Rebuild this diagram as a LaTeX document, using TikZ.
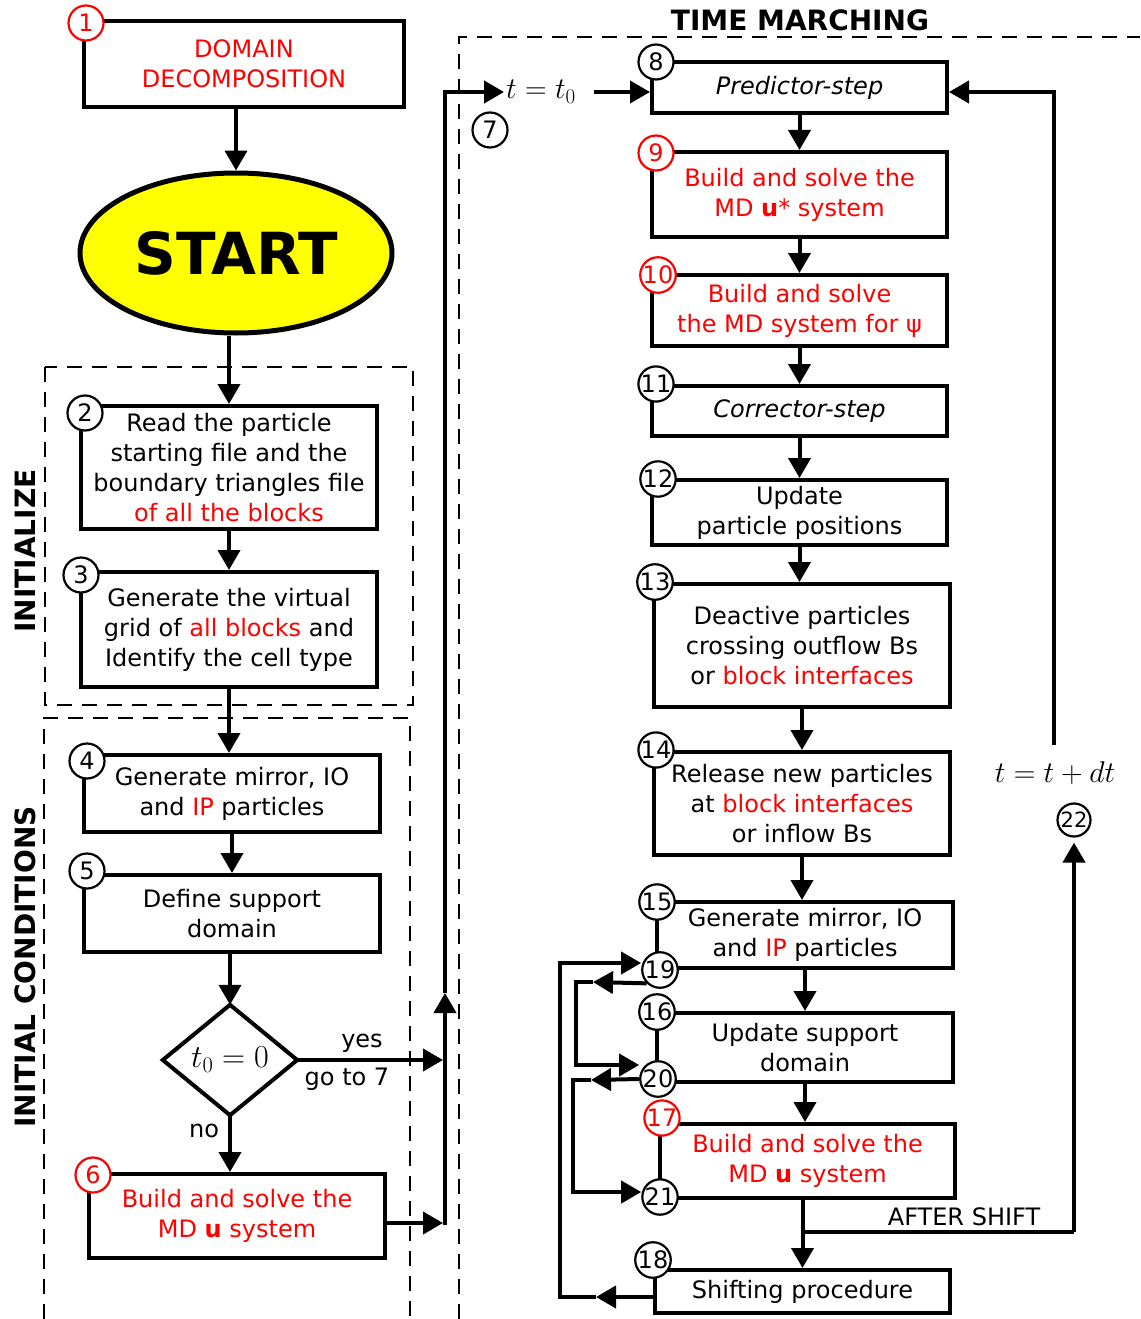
\documentclass[tikz,border=0pt]{standalone}
\usepackage{fix-cm}
\usepackage[no-math]{fontspec}
\setmainfont{DejaVu Sans}[ItalicFont={DejaVu Sans Oblique},BoldFont={DejaVu Sans Bold}]
\usetikzlibrary{arrows.meta,shapes.geometric}
\definecolor{startyellow}{RGB}{255,255,0}
\definecolor{mark}{RGB}{255,0,0}
\newcommand\bodyfont{\fontsize{24}{30}\selectfont}
\newcommand\headfont{\fontsize{28}{28}\selectfont\bfseries}
\begin{document}
\begin{tikzpicture}[x=1pt,y=-1pt,
  box/.style={draw, line width=4pt, fill=white, inner sep=0pt, align=center, font=\bodyfont},
  numc/.style={circle, draw, line width=2.2pt, fill=white, minimum size=35pt, inner sep=0pt, font=\fontsize{24}{24}\selectfont},
  rnumc/.style={numc, draw=mark, text=mark},
  arr/.style={line width=4pt, line join=miter, -{Triangle[length=20pt,width=22pt]}},
  conn/.style={line width=4pt, line join=miter},
  dashbox/.style={line width=2pt, dash pattern=on 15pt off 10pt},
  lbl/.style={font=\bodyfont, inner sep=2pt},
  mathlbl/.style={font=\fontsize{30}{30}\selectfont, inner sep=2pt},
]
% canvas
\fill[white] (0,0) rectangle (1140,1319);
\useasboundingbox (0,0) rectangle (1140,1319);

% dashed group frames
\draw[dashbox] (45,367) rectangle (413,705);
\draw[dashbox] (44,1319) -- (44,718) -- (410,718) -- (410,1319);
\draw[dashbox] (459,1319) -- (459,37) -- (1140,37);

% group titles
\node[font=\headfont] (tm) at (800,20) {TIME MARCHING};
\node[font=\headfont, rotate=90] (ini) at (25,551) {INITIALIZE};
\node[font=\headfont, rotate=90] (icn) at (25,967) {INITIAL CONDITIONS};

% ---------- left column ----------
\node[box, minimum width=320pt, minimum height=86pt, text=mark] (b1) at (244,64) {DOMAIN\\DECOMPOSITION};
\node[ellipse, draw, line width=5pt, fill=startyellow, minimum width=312pt, minimum height=160pt, inner sep=0pt,
      font=\fontsize{58}{58}\selectfont\bfseries] (start) at (236,253) {START};
\node[box, minimum width=296pt, minimum height=123pt] (b2) at (229,467.5)
  {Read the particle\\starting file and the\\boundary triangles file\\\textcolor{mark}{of all the blocks}};
\node[box, minimum width=296pt, minimum height=115pt] (b3) at (229,629.5)
  {Generate the virtual\\grid of \textcolor{mark}{all blocks} and\\Identify the cell type};
\node[box, minimum width=296pt, minimum height=77pt] (b4) at (232,793.5)
  {Generate mirror, IO\\and \textcolor{mark}{IP} particles};
\node[box, minimum width=296pt, minimum height=77pt] (b5) at (232,913.5)
  {Define support\\domain};
\node[minimum width=134pt, minimum height=110pt, inner sep=0pt, font=\fontsize{32}{32}\selectfont] (dia) at (230,1060) {$t_0=0$};
\draw[line width=4pt, line join=miter] (dia.north) -- (dia.east) -- (dia.south) -- (dia.west) -- cycle;
\node[box, minimum width=296pt, minimum height=84pt, text=mark] (b6) at (237,1216)
  {Build and solve the\\MD \textbf{u} system};

% ---------- right column ----------
\node[box, minimum width=295pt, minimum height=51pt] (b8) at (799.5,87.5) {\itshape Predictor-step};
\node[box, minimum width=295pt, minimum height=85pt, text=mark] (b9) at (799.5,194.5)
  {Build and solve the\\MD \textbf{u}* system};
\node[box, minimum width=295pt, minimum height=71pt, text=mark] (b10) at (799.5,310.5)
  {Build and solve\\the MD system for ψ};
\node[box, minimum width=295pt, minimum height=50pt] (b11) at (799.5,411) {\itshape Corrector-step};
\node[box, minimum width=295pt, minimum height=65pt] (b12) at (799.5,512.5)
  {Update\\particle positions};
\node[box, minimum width=296pt, minimum height=123pt] (b13) at (802,645.5)
  {Deactive particles\\crossing outflow Bs\\or \textcolor{mark}{block interfaces}};
\node[box, minimum width=296pt, minimum height=103pt] (b14) at (802,803.5)
  {Release new particles\\at \textcolor{mark}{block interfaces}\\or inflow Bs};
\node[box, minimum width=296pt, minimum height=66pt] (b15) at (805,935)
  {Generate mirror, IO\\and \textcolor{mark}{IP} particles};
\node[box, minimum width=296pt, minimum height=69pt] (b16) at (805,1047.5)
  {Update support\\domain};
\node[box, minimum width=295pt, minimum height=74pt, text=mark] (b17) at (807.5,1161)
  {Build and solve the\\MD \textbf{u} system};
\node[box, minimum width=295pt, minimum height=43pt] (b18) at (802.5,1291.5)
  {Shifting procedure};

% labels
\node[mathlbl] (t0) at (541,92) {$t=t_0$};
\node[mathlbl] (tdt) at (1055,773) {$t=t+dt$};
\node[lbl] (yes) at (362,1043) {yes};
\node[lbl] (goto) at (347,1079) {go to 7};
\node[lbl] (no) at (204,1131) {no};
\node[lbl] (ash) at (964,1217) {AFTER SHIFT};

% ---------- connectors, left column ----------
\draw[arr] (start.north |- b1.south) -- (start.north);
\draw[arr] (start.south -| b2.north) -- (b2.north);
\draw[arr] (b2.south) -- (b3.north);
\draw[arr] (b3.south) -- (b3.south |- b4.north);
\draw[arr] (b4.south) -- (b5.north);
\draw[arr] (b5.south -| dia.north) -- (dia.north);
\draw[arr] (dia.south) -- (dia.south |- b6.north);

% route to the time loop
\coordinate (v1) at (445,1223);
\coordinate (v2) at (445,993);
\coordinate (v3) at (445,92);
\draw[arr, shorten >=2pt] (dia.east) -- (dia.east -| v1);
\draw[arr, shorten >=2pt] ([yshift=-7pt]b6.east) -- ([yshift=-7pt]b6.east -| v1);
\draw[arr] ([yshift=-2pt]v1) -- (v2);
\draw[arr] (v2) -- (v3) -- (t0.west);
\draw[arr] ([xshift=16pt]t0.east) -- ([yshift=-4.5pt]b8.west);

% ---------- connectors, right column ----------
\draw[arr] (b8.south) -- (b9.north);
\draw[arr] (b9.south) -- (b10.north);
\draw[arr] (b10.south) -- (b11.north);
\draw[arr] (b11.south) -- (b12.north);
\draw[arr] (b12.south) -- (b12.south |- b13.north);
\draw[arr] (b13.south) -- (b14.north);
\draw[arr] (b14.south) -- (b14.south |- b15.north);
\draw[arr] (b15.south) -- (b16.north);
\draw[arr] (b16.south) -- (b16.south |- b17.north);
\draw[arr] (b18.north |- b17.south) -- (b18.north);

% after-shift return to the predictor
\coordinate (as) at (802.5,1232);
\coordinate (asr) at (1074,1232);
\coordinate (r1) at (1054,745);
\coordinate (r2) at (1054,92);

% step markers
\node[rnumc] (c1) at (86,23) {1};
\node[numc] (c2) at (85,413) {2};
\node[numc] (c3) at (81,575) {3};
\node[numc] (c4) at (87,761) {4};
\node[numc] (c5) at (87,871) {5};
\node[rnumc] (c6) at (93,1175) {6};
\node[numc] (c7) at (490,130) {7};
\node[numc] (c8) at (656,62) {8};
\node[rnumc] (c9) at (656,153) {9};
\node[rnumc] (c10) at (658,275) {10};
\node[numc] (c11) at (656,384) {11};
\node[numc] (c12) at (658,479) {12};
\node[numc] (c13) at (655,582) {13};
\node[numc] (c14) at (656,750) {14};
\node[numc] (c15) at (657,902) {15};
\node[numc] (c19) at (660,970) {19};
\node[numc] (c16) at (657,1012) {16};
\node[numc] (c20) at (658,1079) {20};
\node[rnumc] (c17) at (662,1118) {17};
\node[numc] (c21) at (660,1197) {21};
\node[numc] (c18) at (653,1260) {18};
\node[numc, minimum size=33pt, font=\fontsize{21}{21}\selectfont] (c22) at (1074,820) {22};

\draw[conn] (as) -- (asr);
\draw[arr] (asr) -- ([yshift=-5pt]c22.south);
\draw[arr] (r1) -- (r2) -- ([yshift=-4.5pt]b8.east);

% inner loops around steps 15-18
\coordinate (ma) at (596,1297);
\coordinate (la1) at (560,1297);
\coordinate (la2) at (560,963);
\draw[arr] ([yshift=-5.5pt]b18.west) -- (ma);
\draw[arr] (ma) -- (la1) -- (la2) -- (la2 -| c19.west);

\coordinate (mb) at (593,982);
\coordinate (lb1) at (576,982);
\coordinate (lb2) at (576,1065);
\draw[arr] (c19.south west) -- (mb);
\draw[arr] (mb) -- (lb1) -- (lb2) -- (lb2 -| c20.west);

\coordinate (mc) at (591,1080);
\coordinate (lc1) at (573,1080);
\coordinate (lc2) at (573,1192);
\draw[arr] (c20.west) -- (mc);
\draw[arr] (mc) -- (lc1) -- (lc2) -- (lc2 -| c21.west);
\end{tikzpicture}
\end{document}
